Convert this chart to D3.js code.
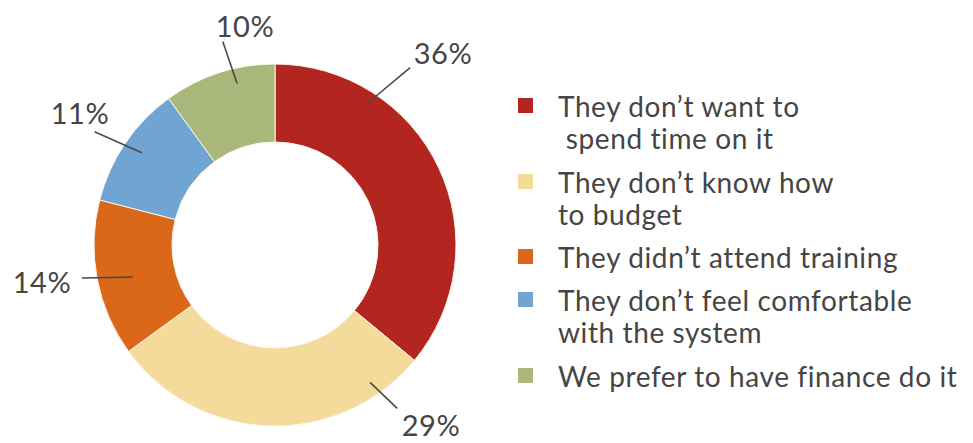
<!DOCTYPE html>
<html>
<head>
<meta charset="utf-8">
<script src="https://cdn.jsdelivr.net/npm/d3@7"></script>
<style>
  body { margin: 0; background: #fff; }
  text { font-family: Lato, "Open Sans", sans-serif; fill: #454545; }
</style>
</head>
<body>
<svg width="973" height="443"></svg>
<script>
// data
var categories = ["They don\u2019t want to spend time on it",
                  "They don\u2019t know how to budget",
                  "They didn\u2019t attend training",
                  "They don\u2019t feel comfortable with the system",
                  "We prefer to have finance do it"];
var values = [36, 29, 14, 11, 10];
var legendLines = [["They don\u2019t want to", " spend time on it"],
                   ["They don\u2019t know how", "to budget"],
                   ["They didn\u2019t attend training"],
                   ["They don\u2019t feel comfortable", "with the system"],
                   ["We prefer to have finance do it"]];
var colors = ["#b3261f", "#f4da9b", "#db6718", "#70a5d3", "#a9b77a"];

var svg = d3.select("svg"),
    cx = 275, cy = 245,
    outerR = 181, innerR = 103;

var pie = d3.pie().sort(null).value(function(d) { return d; });
var arc = d3.arc().innerRadius(innerR).outerRadius(outerR);

var g = svg.append("g").attr("transform", "translate(" + cx + "," + cy + ")");

g.selectAll("path.slice")
  .data(pie(values))
  .enter().append("path")
    .attr("class", "slice")
    .attr("d", arc)
    .attr("fill", function(d, i) { return colors[i]; })
    .attr("stroke", "#fbf6ee")
    .attr("stroke-width", 1);

// leader line layout: angle (deg, clockwise from top) and radius of both ends, label spot
var leaders = [
  { a0: 33.2,  r0: 170, a1: 37.3,  r1: 223, lx: 443, ly: 64,  anchor: "middle" },
  { a0: 145.3, r0: 167, a1: 143.2, r1: 204, lx: 431, ly: 436, anchor: "middle" },
  { a0: 257.3, r0: 146, a1: 260.3, r1: 196, lx: 42,  ly: 293, anchor: "middle" },
  { a0: 304.7, r0: 162, a1: 302.1, r1: 213, lx: 80,  ly: 124, anchor: "middle" },
  { a0: 346.8, r0: 166, a1: 345.6, r1: 210, lx: 245, ly: 37,  anchor: "middle" }
];

function rad(a) { return a * Math.PI / 180; }

g.selectAll("line.leader")
  .data(leaders)
  .enter().append("line")
    .attr("class", "leader")
    .attr("x1", function(d) { return d3.pointRadial(rad(d.a0), d.r0)[0]; })
    .attr("y1", function(d) { return d3.pointRadial(rad(d.a0), d.r0)[1]; })
    .attr("x2", function(d) { return d3.pointRadial(rad(d.a1), d.r1)[0]; })
    .attr("y2", function(d) { return d3.pointRadial(rad(d.a1), d.r1)[1]; })
    .attr("stroke", "#4a4a4a")
    .attr("stroke-width", 1.6);

svg.selectAll("text.pct")
  .data(values)
  .enter().append("text")
    .attr("class", "pct")
    .attr("x", function(d, i) { return leaders[i].lx; })
    .attr("y", function(d, i) { return leaders[i].ly; })
    .attr("text-anchor", function(d, i) { return leaders[i].anchor; })
    .style("font-size", "29px")
    .style("letter-spacing", "0.5px")
    .text(function(d) { return d + "%"; });

// legend
var legendY = [117, 193, 268, 311, 387];
var legend = svg.append("g").attr("class", "legend");

var item = legend.selectAll("g.item")
  .data(categories)
  .enter().append("g")
    .attr("class", "item")
    .attr("transform", function(d, i) { return "translate(518," + legendY[i] + ")"; });

item.append("rect")
  .attr("x", 0)
  .attr("y", -19)
  .attr("width", 15)
  .attr("height", 15)
  .attr("fill", function(d, i) { return colors[i]; });

item.append("text")
  .attr("x", 40)
  .style("font-size", "28px")
  .style("letter-spacing", "0.6px")
  .selectAll("tspan")
  .data(function(d, i) { return legendLines[i]; })
  .enter().append("tspan")
    .attr("x", 40)
    .attr("dy", function(d, j) { return j === 0 ? 0 : 32; })
    .attr("xml:space", "preserve")
    .text(function(d) { return d; });
</script>
</body>
</html>
